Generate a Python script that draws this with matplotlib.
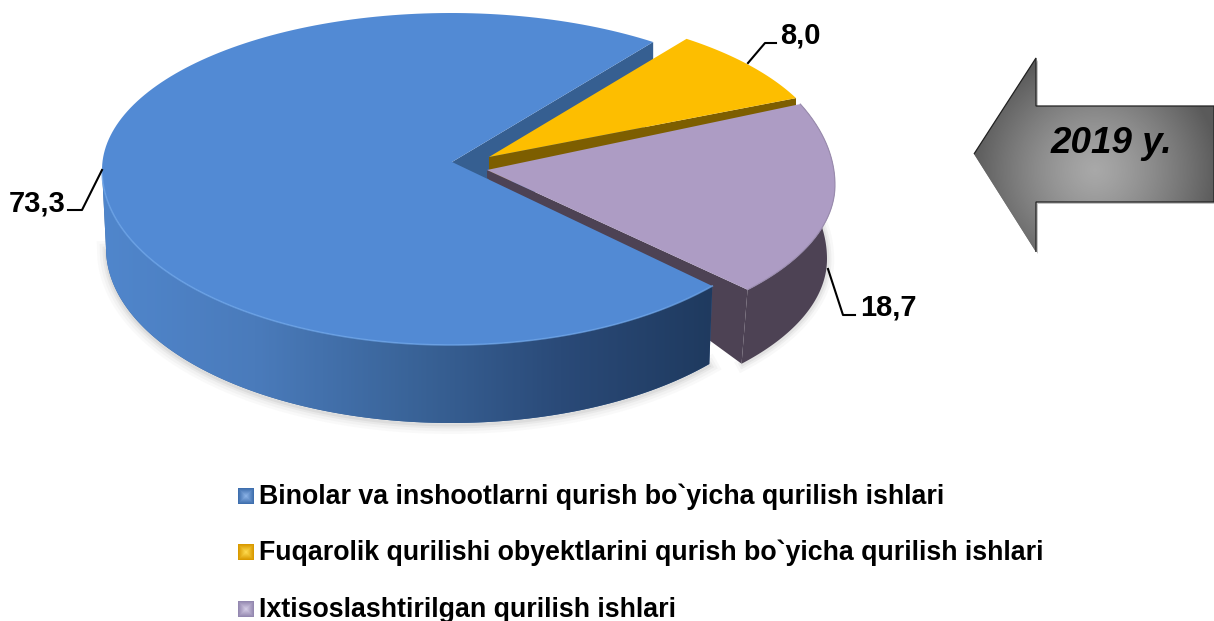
import numpy as np
import matplotlib
matplotlib.use("Agg")
import matplotlib.pyplot as plt
from matplotlib.colors import LinearSegmentedColormap
from matplotlib.patches import Polygon, Rectangle

categories = ["Binolar va inshootlarni qurish bo`yicha qurilish ishlari",
              "Fuqarolik qurilishi obyektlarini qurish bo`yicha qurilish ishlari",
              "Ixtisoslashtirilgan qurilish ishlari"]
values = [73.3, 8.0, 18.7]
value_labels = ["73,3", "8,0", "18,7"]
year_label = "2019 y."

FONT = "Liberation Sans"
W, H = 1214, 621
START = 54.6

plt.rcParams["font.family"] = FONT
fig = plt.figure(figsize=(W / 100, H / 100), dpi=100)
ax = fig.add_axes([0, 0, 1, 1])
ax.axis("off")


def arc(t1, t2, cx, cy, a, bu, bd, n=200):
    # flattened circle, front half is stretched a bit to fake perspective
    t = np.radians(np.linspace(t1, t2, n))
    s = np.sin(t)
    return np.column_stack([cx + a * np.cos(t), cy - np.where(s > 0, bu, bd) * s])


def poly(pts, color, z):
    p = Polygon(pts, closed=True, fc=color, ec="none", zorder=z)
    ax.add_patch(p)
    return p


def gradient(patch, img, extent, cmap, z, vmin=0, vmax=1):
    im = ax.imshow(img, extent=extent, cmap=cmap, vmin=vmin, vmax=vmax,
                   aspect="auto", zorder=z, interpolation="bilinear")
    im.set_clip_path(patch)


# slice angles come from the values, going clockwise
sweep = [v / sum(values) * 360 for v in values]
blue_end = START + sweep[0]
yellow_end = START - sweep[1]
purple_end = yellow_end - sweep[2]

# blue
b_apex = np.array([452, 162])
b_top = arc(START, blue_end, 451, 170, 349, 157, 175)
b_front = arc(180, blue_end, 451, 170, 349, 157, 175)
b_low = arc(180, blue_end, 451, 248, 345, 157, 175)

# soft shadow under the body
for lw, al in [(13, .03), (9, .04), (5, .06), (2, .08)]:
    ax.plot(b_low[:, 0], b_low[:, 1] + 2, color="#555555", lw=lw, alpha=al, zorder=1)

# far wall of the blue slice, yellow and purple cover most of it
p1 = b_top[0]
poly([b_apex, p1, p1 + [0, 80], b_apex + [0, 80]], "#365f91", 2)

# yellow
y_apex = np.array([489, 157])
y_top = arc(START, yellow_end, 489, 166, 341, 156, 156)
poly(np.vstack([y_apex, y_top]), "#fdbe00", 4)
poly([y_apex, y_top[-1], y_top[-1] + [0, 12], y_apex + [0, 30]], "#7d5e00", 3)

# purple
u_apex = np.array([487, 170])
u_top = arc(yellow_end, purple_end, 487, 185, 348, 186, 158)
u_low = arc(yellow_end, purple_end, 487, 259, 340, 186, 158)
for lw, al in [(9, .04), (5, .06), (2, .08)]:
    ax.plot(u_low[:, 0] + 1, u_low[:, 1] + 1, color="#555555", lw=lw, alpha=al, zorder=1)
poly(np.vstack([u_top, u_low[::-1]]), "#4d4254", 5)
poly([u_apex, u_top[-1], u_low[-1], u_apex + [0, 8]], "#4d4254", 5)
poly(np.vstack([u_apex, u_top]), "#ad9cc4", 6)
ax.plot(u_top[:, 0], u_top[:, 1], color="#9a8cae", lw=0.8, zorder=6)

# blue body goes last, it sits in front of the others
side_cmap = LinearSegmentedColormap.from_list(
    "side", ["#5086cc", "#4a7bbb", "#3a6499", "#2a4a78", "#1f3a5f"])
side = poly(np.vstack([b_front, b_low[::-1]]), "#3a6499", 7)
gradient(side, np.linspace(0, 1, 300)[None, :], (102, 715, 430, 170), side_cmap, 7)
poly(np.vstack([b_apex, b_top]), "#528ad4", 8)
ax.plot(b_front[:, 0], b_front[:, 1], color="#6ea6ea", lw=1.2, alpha=0.7, zorder=8)

# value labels with leader lines
ax.plot([68, 82, 102], [210, 210, 170], color="k", lw=1.5, zorder=9)
ax.plot([748, 765, 776], [63, 43, 43], color="k", lw=1.5, zorder=9)
ax.plot([828, 843, 855], [269, 315, 315], color="k", lw=1.5, zorder=9)
label_pos = [(9, 211), (780, 43), (860, 315)]
for (x, y), s in zip(label_pos, value_labels):
    ax.text(x, y, s, fontsize=21, fontweight="bold", ha="left", va="baseline", zorder=9)

# year arrow
arrow = np.array([[974, 154], [1036, 58], [1036, 106], [1214, 106],
                  [1214, 202], [1036, 202], [1036, 252]])
poly(arrow + [2, 2], "#c4c4c4", 10)
arrow_patch = Polygon(arrow, closed=True, fc="#808080", ec="none", zorder=11)
ax.add_patch(arrow_patch)
xx, yy = np.meshgrid(np.linspace(970, 1214, 244), np.linspace(55, 255, 200))
d = np.sqrt(((xx - 1095) / 125) ** 2 + ((yy - 170) / 120) ** 2)
gray = LinearSegmentedColormap.from_list("arrow", ["#a8a8a8", "#5a5a5a"])
gradient(arrow_patch, np.clip(d, 0, 1) ** 1.3, (970, 1214, 255, 55), gray, 11)
ax.add_patch(Polygon(arrow, closed=False, fc="none", ec="#222222", lw=0.9, zorder=12))
ax.text(1111, 153, year_label, fontsize=26.5, fontweight="bold", fontstyle="italic",
        ha="center", va="baseline", zorder=13)

# legend
legend_colors = [("#8db4e8", "#3f6fae"),
                 ("#ffdc50", "#d99a00"),
                 ("#d5cde6", "#9488b0")]
legend_y = [504, 560, 617]
mx, my = np.meshgrid(np.linspace(-1, 1, 16), np.linspace(-1, 1, 16))
for name, (light, dark), y in zip(categories, legend_colors, legend_y):
    x0, y0, s = 238, y - 16, 16
    box = Rectangle((x0, y0), s, s, fc=dark, ec="none", zorder=9)
    ax.add_patch(box)
    cmap = LinearSegmentedColormap.from_list("m", [light, dark])
    gradient(box, np.maximum(np.abs(mx), np.abs(my)), (x0, x0 + s, y0 + s, y0), cmap, 9)
    ax.text(259, y, name, fontsize=19.25, fontweight="bold", ha="left", va="baseline", zorder=9)

ax.set_xlim(0, W)
ax.set_ylim(H, 0)
fig.savefig("out.png", dpi=100)
